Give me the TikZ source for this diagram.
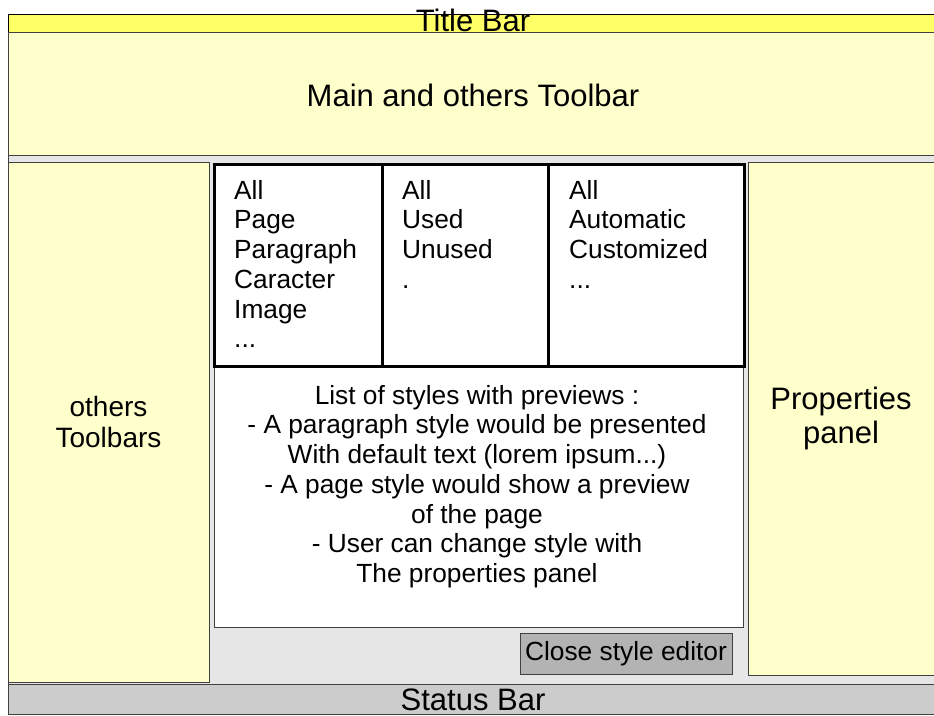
\documentclass[tikz,border=0pt]{standalone}
\usepackage{fontspec}
\setmainfont{Liberation Sans}
\definecolor{titleyellow}{HTML}{FFFF66}
\definecolor{paleyellow}{HTML}{FFFFCC}
\definecolor{editorgray}{HTML}{E6E6E6}
\definecolor{statusgray}{HTML}{CCCCCC}
\definecolor{buttongray}{HTML}{B3B3B3}
\begin{document}
\begin{tikzpicture}[x=1pt, y=-1pt,
  bar/.style={draw=black!75, line width=1pt, inner sep=0pt},
  tab/.style={draw=black, line width=3pt, fill=white, inner sep=0pt, anchor=north west, minimum height=202},
  big/.style={font=\fontsize{31}{34}\selectfont},
  mid/.style={font=\fontsize{28}{31}\selectfont},
  small/.style={font=\fontsize{26.3}{29.7}\selectfont, inner sep=0pt}]
  \useasboundingbox (0,0) rectangle (934,715);
  \clip (0,0) rectangle (934,715);
  \node[bar, draw=black, fill=titleyellow, minimum width=930, minimum height=18, label={[big, anchor=base, inner sep=0pt, yshift=1pt]south:Title Bar}] (title) at (473,23) {};
  \node[bar, fill=paleyellow, minimum width=930, minimum height=123, big, text height=26pt] (toolbar) at (473,93.5) {Main and others Toolbar};
  \node[bar, fill=editorgray, minimum width=930, minimum height=530] (editor) at (473,420) {};
  \node[bar, fill=paleyellow, minimum width=201, minimum height=520, align=center, mid] (others) at (108.5,422) {others\\Toolbars};
  \node[bar, fill=paleyellow, minimum width=186, minimum height=513, align=center, big] (props) at (841,418.5) {Properties\\panel};
  % list of styles under the tabs
  \node[bar, fill=white, minimum width=529, minimum height=262, anchor=north west] (stylelist) at (214,365) {};
  \node[tab, minimum width=168] (tabtype) at (213,163) {};
  \node[tab, minimum width=166] (tabuse) at (381,163) {};
  \node[tab, minimum width=196] (tabkind) at (547,163) {};
  \node[small, align=left, anchor=north west] (typetxt) at ([shift={(21,17)}]tabtype.north west) {All\\Page\\Paragraph\\Caracter\\Image\\...};
  \node[small, align=left, anchor=north west] (usetxt) at ([shift={(21,17)}]tabuse.north west) {All\\Used\\Unused\\.};
  \node[small, align=left, anchor=north west] (kindtxt) at ([shift={(22,17)}]tabkind.north west) {All\\Automatic\\Customized\\...};
  \node[small, align=center, anchor=north] (listtxt) at ([shift={(-2,20)}]stylelist.north) {List of styles with previews :\\- A paragraph style would be presented\\With default text (lorem ipsum...)\\- A page style would show a preview\\of the page\\- User can change style with\\The properties panel};
  \node[bar, fill=buttongray, minimum width=212, minimum height=41, small] (close) at (626,653.5) {Close style editor};
  \node[bar, fill=statusgray, minimum width=930, minimum height=30, big] (status) at (473,699.5) {Status Bar};
\end{tikzpicture}
\end{document}
